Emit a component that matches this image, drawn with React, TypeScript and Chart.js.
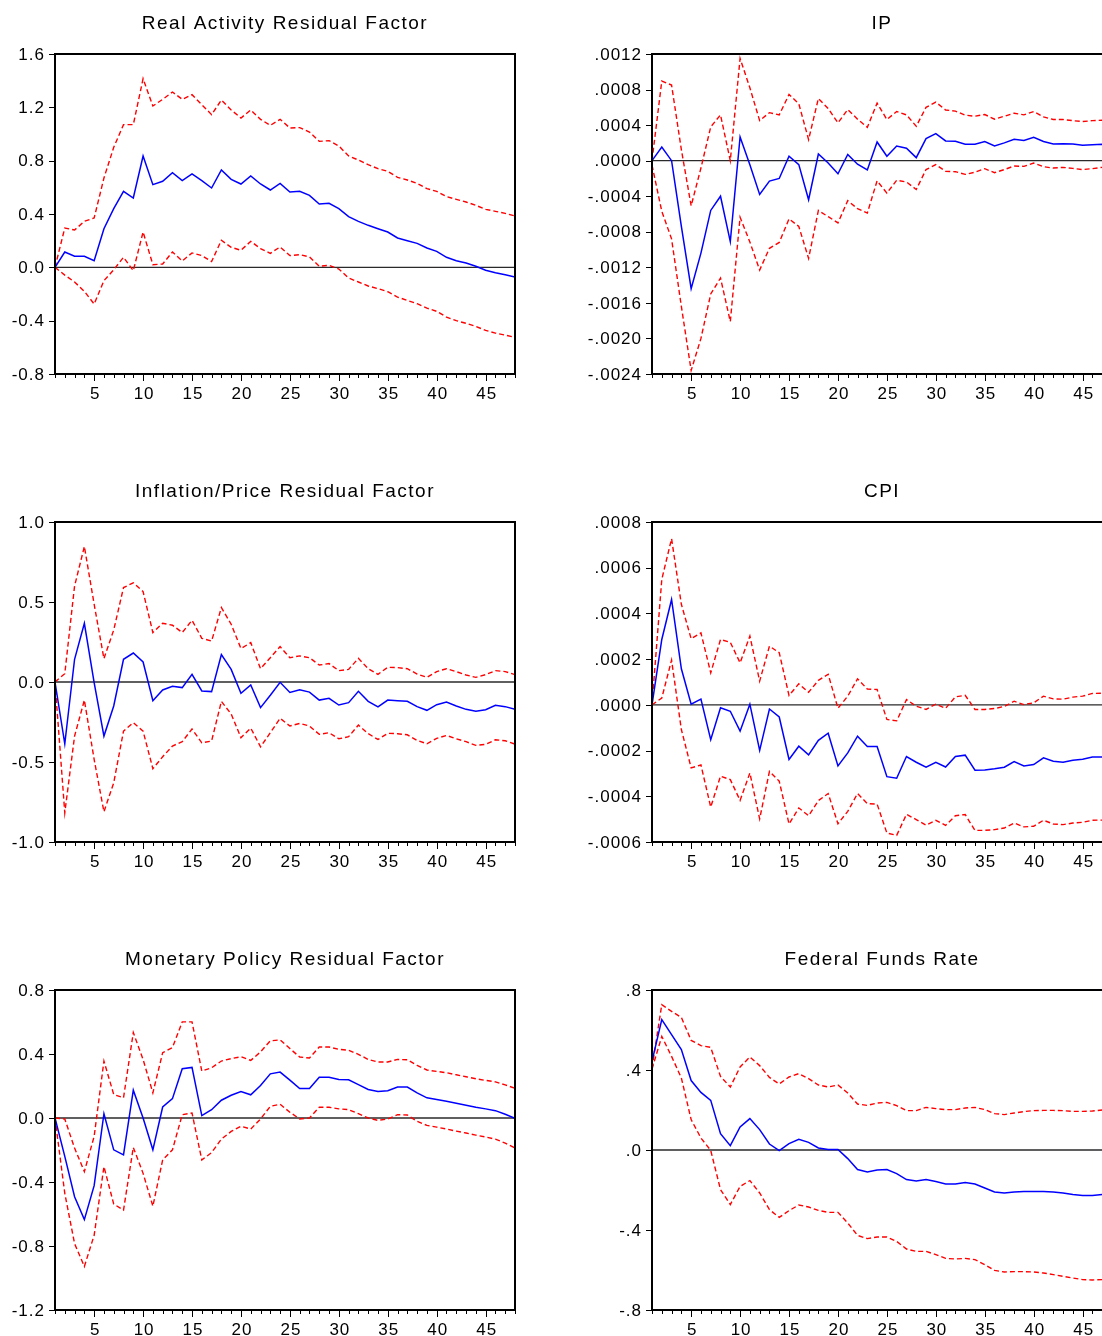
import React, { useEffect, useRef } from 'react';
import { Chart, registerables } from 'chart.js';

Chart.register(...registerables);

// ---------- data ----------
const periods = [1, 2, 3, 4, 5, 6, 7, 8, 9, 10, 11, 12, 13, 14, 15, 16, 17, 18, 19, 20, 21, 22, 23, 24, 25, 26, 27, 28, 29, 30, 31, 32, 33, 34, 35, 36, 37, 38, 39, 40, 41, 42, 43, 44, 45, 46, 47, 48];
const xTickLabels = ['5', '10', '15', '20', '25', '30', '35', '40', '45'];

const realActivityTitle = 'Real Activity Residual Factor';
const realActivityTicks = ['-0.8', '-0.4', '0.0', '0.4', '0.8', '1.2', '1.6'];
const realActivityIRF = [0, 0.115, 0.083, 0.083, 0.05, 0.29, 0.44, 0.57, 0.52, 0.835, 0.62, 0.645, 0.71, 0.65, 0.7, 0.65, 0.595, 0.73, 0.66, 0.625, 0.685, 0.625, 0.58, 0.63, 0.565, 0.57, 0.54, 0.475, 0.48, 0.44, 0.38, 0.345, 0.315, 0.29, 0.265, 0.22, 0.2, 0.18, 0.145, 0.12, 0.075, 0.05, 0.033, 0.008, -0.022, -0.04, -0.055, -0.073];
const realActivityUpper = [0, 0.295, 0.28, 0.345, 0.37, 0.67, 0.9, 1.07, 1.07, 1.415, 1.21, 1.26, 1.315, 1.26, 1.295, 1.22, 1.145, 1.255, 1.18, 1.12, 1.18, 1.11, 1.065, 1.11, 1.045, 1.048, 1.015, 0.945, 0.95, 0.91, 0.835, 0.805, 0.77, 0.74, 0.72, 0.675, 0.655, 0.63, 0.59, 0.57, 0.53, 0.51, 0.49, 0.465, 0.435, 0.42, 0.405, 0.385];
const realActivityLower = [0, -0.058, -0.11, -0.18, -0.275, -0.1, -0.018, 0.075, -0.025, 0.265, 0.02, 0.025, 0.115, 0.048, 0.108, 0.088, 0.043, 0.203, 0.15, 0.128, 0.195, 0.14, 0.105, 0.153, 0.088, 0.095, 0.078, 0.008, 0.015, -0.013, -0.08, -0.11, -0.14, -0.16, -0.183, -0.223, -0.248, -0.273, -0.306, -0.33, -0.373, -0.4, -0.42, -0.443, -0.473, -0.493, -0.508, -0.526];

const ipTitle = 'IP';
const ipTicks = ['-.0024', '-.0020', '-.0016', '-.0012', '-.0008', '-.0004', '.0000', '.0004', '.0008', '.0012'];
const ipIRF = [0, 0.000154, 0, -0.00074, -0.00144, -0.00104, -0.00056, -0.0004, -0.00091, 0.000267, -0.000045, -0.00038, -0.00023, -0.0002, 0.00005, -0.000045, -0.00044, 0.000075, -0.000026, -0.000147, 0.00007, -0.00004, -0.000105, 0.00021, 0.00005, 0.000165, 0.00014, 0.000034, 0.000248, 0.000305, 0.000222, 0.000218, 0.000184, 0.000184, 0.000215, 0.000165, 0.0002, 0.00024, 0.000226, 0.000263, 0.000215, 0.000188, 0.00019, 0.000188, 0.000173, 0.00018, 0.000184, 0.00018];
const ipUpper = [0, 0.000896, 0.00085, 0.000124, -0.000508, -0.000083, 0.00038, 0.000515, 0, 0.00115, 0.00082, 0.00045, 0.00054, 0.000515, 0.000745, 0.00064, 0.000237, 0.0007, 0.000587, 0.000425, 0.000575, 0.000467, 0.000376, 0.000647, 0.000463, 0.000553, 0.000515, 0.000387, 0.0006, 0.000658, 0.00057, 0.000557, 0.000512, 0.0005, 0.000519, 0.000467, 0.0005, 0.000534, 0.000515, 0.000553, 0.000493, 0.000463, 0.000463, 0.00045, 0.00044, 0.00045, 0.000455, 0.00045];
const ipLower = [-0.00005, -0.00057, -0.00088, -0.00164, -0.00236, -0.002, -0.0015, -0.00132, -0.00181, -0.000636, -0.000915, -0.00123, -0.000986, -0.00092, -0.000655, -0.00074, -0.0011, -0.00056, -0.00063, -0.0007, -0.00045, -0.00054, -0.00059, -0.000226, -0.000365, -0.00022, -0.00024, -0.000324, -0.0001, -0.000045, -0.00012, -0.000124, -0.000154, -0.00013, -0.00009, -0.000135, -0.0001, -0.00006, -0.000064, -0.000026, -0.000068, -0.000083, -0.000075, -0.000087, -0.0001, -0.00009, -0.000075, -0.00007];

const inflationTitle = 'Inflation/Price Residual Factor';
const inflationTicks = ['-1.0', '-0.5', '0.0', '0.5', '1.0'];
const inflationIRF = [0, -0.386, 0.142, 0.367, -0.004, -0.338, -0.15, 0.142, 0.181, 0.125, -0.117, -0.05, -0.027, -0.035, 0.048, -0.056, -0.06, 0.171, 0.079, -0.071, -0.019, -0.16, -0.083, -0.002, -0.065, -0.048, -0.063, -0.113, -0.102, -0.144, -0.129, -0.058, -0.121, -0.156, -0.113, -0.117, -0.121, -0.154, -0.177, -0.142, -0.125, -0.15, -0.171, -0.183, -0.173, -0.146, -0.154, -0.171];
const inflationUpper = [0, 0.052, 0.6, 0.847, 0.486, 0.146, 0.325, 0.59, 0.62, 0.565, 0.309, 0.367, 0.355, 0.309, 0.386, 0.273, 0.256, 0.465, 0.361, 0.209, 0.246, 0.083, 0.152, 0.221, 0.152, 0.163, 0.152, 0.106, 0.115, 0.071, 0.079, 0.148, 0.083, 0.048, 0.092, 0.09, 0.083, 0.05, 0.029, 0.065, 0.083, 0.065, 0.044, 0.029, 0.046, 0.071, 0.065, 0.046];
const inflationLower = [0, -0.818, -0.338, -0.113, -0.484, -0.811, -0.63, -0.307, -0.254, -0.307, -0.542, -0.467, -0.4, -0.373, -0.294, -0.38, -0.369, -0.121, -0.2, -0.348, -0.288, -0.405, -0.317, -0.227, -0.275, -0.259, -0.275, -0.327, -0.317, -0.355, -0.342, -0.269, -0.323, -0.359, -0.321, -0.323, -0.33, -0.365, -0.386, -0.352, -0.334, -0.355, -0.373, -0.396, -0.39, -0.361, -0.367, -0.388];

const cpiTitle = 'CPI';
const cpiTicks = ['-.0006', '-.0004', '-.0002', '.0000', '.0002', '.0004', '.0006', '.0008'];
const cpiIRF = [0, 0.000286, 0.000461, 0.000158, 0.000003, 0.000025, -0.000152, -0.000013, -0.000028, -0.000115, 0.000003, -0.000199, -0.000018, -0.000053, -0.000239, -0.000181, -0.000219, -0.000155, -0.000124, -0.000267, -0.00021, -0.000137, -0.000182, -0.000182, -0.000314, -0.000321, -0.000226, -0.000251, -0.000273, -0.000251, -0.000272, -0.000226, -0.00022, -0.000286, -0.000285, -0.00028, -0.000273, -0.000248, -0.000267, -0.000261, -0.000232, -0.000247, -0.000251, -0.000242, -0.000238, -0.000228, -0.000228, -0.000225];
const cpiUpper = [0, 0.000549, 0.000727, 0.00044, 0.000289, 0.000315, 0.00014, 0.000286, 0.000274, 0.000184, 0.000301, 0.000104, 0.000257, 0.000228, 0.000041, 0.000092, 0.000055, 0.000107, 0.000134, -0.000015, 0.000038, 0.000114, 0.000069, 0.000067, -0.000064, -0.00007, 0.000023, -0.000006, -0.00002, 0.000003, -0.000015, 0.000035, 0.000042, -0.00002, -0.00002, -0.000016, -0.000007, 0.000016, 0.000001, 0.000009, 0.000038, 0.000026, 0.000025, 0.000034, 0.000038, 0.00005, 0.000051, 0.000052];
const cpiLower = [0, 0.00003, 0.000196, -0.000108, -0.000276, -0.000263, -0.000447, -0.000312, -0.000327, -0.000418, -0.000298, -0.000499, -0.000291, -0.000334, -0.000521, -0.000451, -0.000485, -0.000419, -0.000388, -0.00052, -0.000466, -0.000388, -0.000432, -0.000434, -0.000561, -0.000571, -0.000479, -0.000502, -0.000526, -0.000505, -0.000527, -0.000485, -0.00048, -0.000549, -0.000549, -0.000546, -0.000539, -0.000517, -0.000534, -0.000531, -0.000505, -0.000521, -0.000524, -0.000517, -0.000514, -0.000505, -0.000504, -0.0005];

const monetaryTitle = 'Monetary Policy Residual Factor';
const monetaryTicks = ['-1.2', '-0.8', '-0.4', '0.0', '0.4', '0.8'];
const monetaryIRF = [0, -0.24, -0.492, -0.635, -0.423, 0.027, -0.199, -0.23, 0.174, 0, -0.199, 0.069, 0.121, 0.308, 0.316, 0.015, 0.052, 0.111, 0.142, 0.165, 0.145, 0.203, 0.276, 0.287, 0.237, 0.184, 0.184, 0.255, 0.255, 0.241, 0.239, 0.209, 0.178, 0.165, 0.17, 0.193, 0.193, 0.157, 0.126, 0.115, 0.105, 0.092, 0.08, 0.067, 0.057, 0.046, 0.023, -0.002];
const monetaryUpper = [0, -0.006, -0.188, -0.335, -0.115, 0.356, 0.147, 0.126, 0.534, 0.366, 0.157, 0.408, 0.44, 0.601, 0.601, 0.293, 0.314, 0.356, 0.371, 0.383, 0.36, 0.413, 0.482, 0.488, 0.434, 0.381, 0.375, 0.444, 0.444, 0.429, 0.423, 0.398, 0.366, 0.35, 0.35, 0.366, 0.364, 0.329, 0.3, 0.291, 0.283, 0.27, 0.258, 0.245, 0.235, 0.226, 0.207, 0.186];
const monetaryLower = [0, -0.471, -0.785, -0.928, -0.733, -0.304, -0.538, -0.576, -0.184, -0.346, -0.551, -0.262, -0.199, 0.021, 0.031, -0.262, -0.216, -0.132, -0.084, -0.052, -0.069, -0.006, 0.073, 0.086, 0.036, -0.006, 0, 0.067, 0.067, 0.057, 0.052, 0.027, 0, -0.015, -0.006, 0.021, 0.019, -0.021, -0.046, -0.057, -0.069, -0.082, -0.094, -0.107, -0.119, -0.132, -0.157, -0.188];

const ffrTitle = 'Federal Funds Rate';
const ffrTicks = ['-.8', '-.4', '.0', '.4', '.8'];
const ffrIRF = [0.443, 0.652, 0.577, 0.502, 0.347, 0.288, 0.248, 0.082, 0.022, 0.115, 0.157, 0.102, 0.03, -0.003, 0.032, 0.053, 0.038, 0.01, 0.002, 0.003, -0.043, -0.098, -0.11, -0.1, -0.098, -0.118, -0.148, -0.155, -0.147, -0.158, -0.17, -0.17, -0.163, -0.17, -0.19, -0.21, -0.215, -0.21, -0.207, -0.207, -0.207, -0.21, -0.215, -0.222, -0.227, -0.228, -0.223, -0.222];
const ffrUpper = [0.41, 0.727, 0.693, 0.663, 0.548, 0.522, 0.513, 0.368, 0.315, 0.415, 0.465, 0.422, 0.363, 0.33, 0.365, 0.382, 0.357, 0.325, 0.315, 0.325, 0.285, 0.23, 0.223, 0.235, 0.238, 0.222, 0.197, 0.197, 0.213, 0.207, 0.202, 0.202, 0.21, 0.213, 0.202, 0.182, 0.177, 0.185, 0.192, 0.197, 0.198, 0.198, 0.197, 0.193, 0.193, 0.195, 0.2, 0.2];
const ffrLower = [0.405, 0.568, 0.468, 0.36, 0.152, 0.06, -0.002, -0.198, -0.273, -0.182, -0.153, -0.215, -0.298, -0.337, -0.303, -0.275, -0.285, -0.302, -0.312, -0.312, -0.365, -0.427, -0.443, -0.435, -0.435, -0.457, -0.495, -0.507, -0.507, -0.523, -0.542, -0.545, -0.542, -0.548, -0.573, -0.602, -0.61, -0.608, -0.608, -0.61, -0.615, -0.623, -0.632, -0.64, -0.648, -0.65, -0.648, -0.648];

// ---------- drawing ----------
const FONT = "'Liberation Sans', Arial, sans-serif";

const eviewsPlugin = {
  id: 'eviews',
  beforeDatasetsDraw(chart: any) {
    const { ctx, chartArea: a, scales } = chart;
    const y0 = scales.y.getPixelForValue(0);
    ctx.save();
    ctx.strokeStyle = '#2a2a2a';
    ctx.lineWidth = 1.3;
    ctx.beginPath();
    ctx.moveTo(a.left, y0);
    ctx.lineTo(a.right, y0);
    ctx.stroke();
    ctx.restore();
  },
  afterDraw(chart: any, _args: any, opts: any) {
    const { ctx, chartArea: a, scales } = chart;
    const x = scales.x;
    const y = scales.y;
    ctx.save();
    ctx.strokeStyle = '#000';
    ctx.lineWidth = 2;
    ctx.strokeRect(a.left, a.top, a.right - a.left, a.bottom - a.top);

    // x ticks
    ctx.lineWidth = 1;
    ctx.beginPath();
    for (const p of periods) {
      const px = Math.round(x.getPixelForValue(p)) + 0.5;
      const len = p % 5 === 0 ? 7 : 4;
      ctx.moveTo(px, a.bottom);
      ctx.lineTo(px, a.bottom + len);
    }
    // y ticks
    for (const lbl of opts.yTicks as string[]) {
      const py = Math.round(y.getPixelForValue(Number(lbl))) + 0.5;
      ctx.moveTo(a.left - 6, py);
      ctx.lineTo(a.left, py);
    }
    ctx.stroke();

    ctx.fillStyle = '#000';
    (ctx as any).letterSpacing = '1px';
    ctx.font = `17px ${FONT}`;
    ctx.textAlign = 'right';
    ctx.textBaseline = 'middle';
    for (const lbl of opts.yTicks as string[]) {
      ctx.fillText(lbl, a.left - 10, y.getPixelForValue(Number(lbl)) + 1);
    }
    ctx.textAlign = 'center';
    for (const lbl of xTickLabels) {
      ctx.fillText(lbl, x.getPixelForValue(Number(lbl)) + 1, a.bottom + 20);
    }
    (ctx as any).letterSpacing = '1.5px';
    ctx.font = `19px ${FONT}`;
    ctx.textBaseline = 'alphabetic';
    ctx.fillText(opts.title, (a.left + a.right) / 2, a.top - 25);
    ctx.restore();
  },
};

type PanelDef = {
  title: string;
  ticks: string[];
  irf: number[];
  upper: number[];
  lower: number[];
  col: number;
  row: number;
};

const COLS = [
  { left: 0, width: 560, padLeft: 55, padRight: 45 },
  { left: 560, width: 600, padLeft: 92, padRight: 48 },
];
const ROW_TOPS = [0, 468, 936];
const CANVAS_H = 400;

function toPoints(vals: number[]) {
  return vals.map((v, i) => ({ x: periods[i], y: v }));
}

function Panel({ def }: { def: PanelDef }) {
  const ref = useRef<HTMLCanvasElement>(null);
  const col = COLS[def.col];
  useEffect(() => {
    const tickVals = def.ticks.map(Number);
    const chart = new Chart(ref.current as HTMLCanvasElement, {
      type: 'line',
      data: {
        datasets: [
          { data: toPoints(def.irf), borderColor: '#0000ff', borderWidth: 1.5, pointRadius: 0, fill: false, tension: 0 },
          { data: toPoints(def.upper), borderColor: '#ff0000', borderWidth: 1.4, borderDash: [5, 3], pointRadius: 0, fill: false, tension: 0 },
          { data: toPoints(def.lower), borderColor: '#ff0000', borderWidth: 1.4, borderDash: [5, 3], pointRadius: 0, fill: false, tension: 0 },
        ],
      },
      options: {
        animation: false,
        responsive: false,
        devicePixelRatio: 1,
        events: [],
        layout: { padding: { left: col.padLeft, right: col.padRight, top: 54, bottom: 26 } },
        scales: {
          x: { type: 'linear', display: false, min: periods[0], max: periods[periods.length - 1] },
          y: { type: 'linear', display: false, min: tickVals[0], max: tickVals[tickVals.length - 1] },
        },
        plugins: {
          legend: { display: false },
          tooltip: { enabled: false },
          eviews: { title: def.title, yTicks: def.ticks },
        } as any,
      },
      plugins: [eviewsPlugin],
    });
    return () => chart.destroy();
  }, []);
  return (
    <canvas
      ref={ref}
      width={col.width}
      height={CANVAS_H}
      style={{ position: 'absolute', left: col.left, top: ROW_TOPS[def.row], width: col.width, height: CANVAS_H, display: 'block' }}
    />
  );
}

const panels: PanelDef[] = [
  { title: realActivityTitle, ticks: realActivityTicks, irf: realActivityIRF, upper: realActivityUpper, lower: realActivityLower, col: 0, row: 0 },
  { title: ipTitle, ticks: ipTicks, irf: ipIRF, upper: ipUpper, lower: ipLower, col: 1, row: 0 },
  { title: inflationTitle, ticks: inflationTicks, irf: inflationIRF, upper: inflationUpper, lower: inflationLower, col: 0, row: 1 },
  { title: cpiTitle, ticks: cpiTicks, irf: cpiIRF, upper: cpiUpper, lower: cpiLower, col: 1, row: 1 },
  { title: monetaryTitle, ticks: monetaryTicks, irf: monetaryIRF, upper: monetaryUpper, lower: monetaryLower, col: 0, row: 2 },
  { title: ffrTitle, ticks: ffrTicks, irf: ffrIRF, upper: ffrUpper, lower: ffrLower, col: 1, row: 2 },
];

export default function App() {
  return (
    <div style={{ position: 'fixed', left: 0, top: 0, width: 1102, height: 1336, overflow: 'hidden', background: '#fff' }}>
      {panels.map((p, i) => (
        <Panel key={i} def={p} />
      ))}
    </div>
  );
}
